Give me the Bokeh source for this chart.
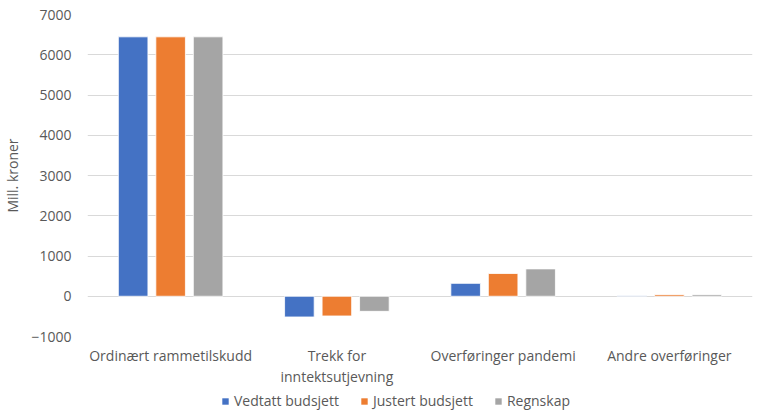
from bokeh.plotting import figure
from bokeh.models import FactorRange, Range1d, FixedTicker, Legend, LegendItem, ColumnDataSource
from bokeh.layouts import column
from bokeh.transform import dodge
from bokeh.embed import file_html
from bokeh.resources import INLINE

categories = ["Ordinært rammetilskudd", "Trekk for\ninntektsutjevning", "Overføringer pandemi", "Andre overføringer"]
series_names = ["Vedtatt budsjett", "Justert budsjett", "Regnskap"]
vedtatt = [6445, -515, 320, 15]
justert = [6445, -490, 565, 40]
regnskap = [6445, -375, 680, 40]
y_ticks = [-1000, 0, 1000, 2000, 3000, 4000, 5000, 6000, 7000]

colors = ["#4472C4", "#ED7D31", "#A5A5A5"]
FONT = "Open Sans"
TXT = "#595959"

src = ColumnDataSource(dict(cat=categories, v=vedtatt, j=justert, r=regnskap))

p = figure(x_range=FactorRange(*categories), y_range=Range1d(-1000, 7000),
           width=753, height=389, output_backend="svg", toolbar_location=None,
           min_border_left=78, min_border_right=1, min_border_top=14, min_border_bottom=0)
p.outline_line_color = None

for col, off, c in zip(["v", "j", "r"], [-0.2255, 0.0, 0.2255], colors):
    p.vbar(x=dodge("cat", off, range=p.x_range), top=col, width=0.178, source=src,
           fill_color=c, line_color="white", line_width=0.8)

p.yaxis.ticker = FixedTicker(ticks=y_ticks)
p.yaxis.axis_line_color = None
p.yaxis.major_tick_line_color = None
p.yaxis.minor_tick_line_color = None
p.yaxis.major_label_standoff = 10
p.yaxis.major_label_text_font = FONT
p.yaxis.major_label_text_font_size = "14px"
p.yaxis.major_label_text_color = TXT
p.yaxis.axis_label = "Mill. kroner"
p.yaxis.axis_label_text_font = FONT
p.yaxis.axis_label_text_font_size = "14px"
p.yaxis.axis_label_text_font_style = "normal"
p.yaxis.axis_label_text_color = TXT
p.yaxis.axis_label_standoff = 6

p.xaxis.axis_line_color = None
p.xaxis.major_tick_line_color = None
p.xaxis.minor_tick_line_color = None
p.xaxis.major_label_standoff = 3
p.xaxis.major_label_text_font = FONT
p.xaxis.major_label_text_font_size = "14px"
p.xaxis.major_label_text_color = TXT
p.xaxis.major_label_text_line_height = 1.15

p.xgrid.grid_line_color = None
p.ygrid.grid_line_color = "#D9D9D9"
p.ygrid.grid_line_width = 1

# legend strip below the chart (its frame is aligned with the main frame)
lg = figure(width=753, height=22, output_backend="svg", toolbar_location=None,
            x_range=Range1d(0, 1), y_range=Range1d(0, 1),
            min_border_left=0, min_border_right=0, min_border_top=0, min_border_bottom=0)
lg.axis.visible = False
lg.grid.visible = False
lg.outline_line_color = None
proxy = ColumnDataSource(dict(x=[0.5], top=[0.0]))
lrs = [lg.vbar(x="x", top="top", bottom=0, width=0, source=proxy, fill_color=c, line_color=None)
       for c in colors]
legend = Legend(items=[LegendItem(label=n, renderers=[r]) for n, r in zip(series_names, lrs)],
                orientation="horizontal", location=(134, 1),
                label_text_font=FONT, label_text_font_size="14px", label_text_color=TXT,
                glyph_width=8, glyph_height=8, label_standoff=5, spacing=21,
                border_line_color=None, background_fill_alpha=0,
                padding=0, margin=0)
lg.add_layout(legend)

open("out.html", "w").write(file_html(column(p, lg, spacing=0), INLINE))
